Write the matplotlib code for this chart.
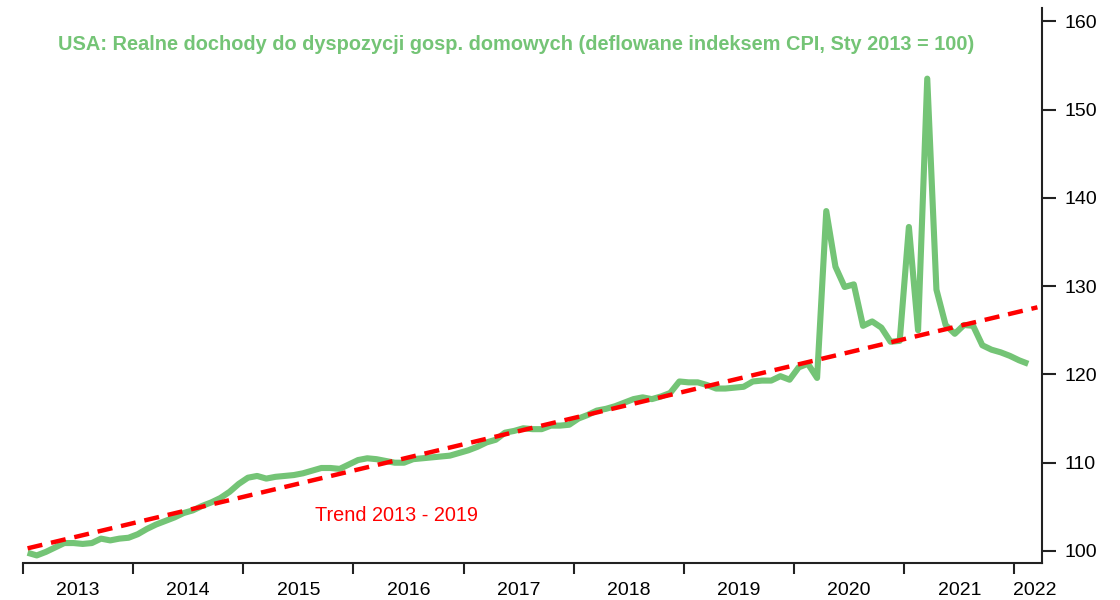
import matplotlib
matplotlib.use("Agg")
import matplotlib.pyplot as plt
import numpy as np
import pandas as pd

# ---- data ----
months = pd.period_range("2013-01", "2022-02", freq="M")
income_index = [
    99.8, 99.5, 99.9, 100.4, 100.9, 100.9, 100.8, 100.9, 101.4, 101.2, 101.4, 101.5,   # 2013
    101.9, 102.5, 103.0, 103.4, 103.8, 104.3, 104.6, 105.1, 105.5, 106.0, 106.7, 107.6, # 2014
    108.3, 108.5, 108.2, 108.4, 108.5, 108.6, 108.8, 109.1, 109.4, 109.4, 109.3, 109.8, # 2015
    110.3, 110.5, 110.4, 110.2, 110.0, 110.0, 110.4, 110.5, 110.6, 110.7, 110.8, 111.1, # 2016
    111.4, 111.8, 112.3, 112.6, 113.4, 113.6, 113.9, 113.8, 113.8, 114.2, 114.2, 114.3, # 2017
    115.0, 115.4, 115.9, 116.1, 116.4, 116.8, 117.2, 117.4, 117.2, 117.5, 117.9, 119.2, # 2018
    119.1, 119.1, 118.8, 118.4, 118.4, 118.5, 118.6, 119.2, 119.3, 119.3, 119.8, 119.4, # 2019
    120.8, 121.2, 119.6, 138.5, 132.2, 129.9, 130.2, 125.5, 126.0, 125.3, 123.7, 123.8, # 2020
    136.7, 125.0, 153.5, 129.6, 125.6, 124.6, 125.6, 125.5, 123.3, 122.8, 122.5, 122.1, # 2021
    121.6, 121.2,                                                                        # 2022
]
trend_months = ["2013-01", "2022-03"]
trend_values = [100.3, 127.6]
years = [str(y) for y in range(2013, 2023)]
y_ticks = [100, 110, 120, 130, 140, 150, 160]

title = "USA: Realne dochody do dyspozycji gosp. domowych (deflowane indeksem CPI, Sty 2013 = 100)"
trend_label = "Trend 2013 - 2019"

# ---- positions (month index, centred in month) ----
start = months[0]
x_income = np.array([(m - start).n for m in months]) + 0.5
x_trend = np.array([(pd.Period(m, freq="M") - start).n for m in trend_months]) + 0.5

plt.rcParams['font.family'] = ['Liberation Sans', 'DejaVu Sans']

fig = plt.figure(figsize=(11.2, 6.0), dpi=100)
ax = fig.add_axes([23 / 1120, 37 / 600, (1042 - 23) / 1120, (563 - 8) / 600])

green = "#74C476"
ax.plot(x_income, income_index, color=green, lw=4.4, solid_joinstyle="round",
        solid_capstyle="butt", zorder=3)
ax.plot(x_trend, trend_values, color="#FF0000", lw=3.2, linestyle=(0, (3.4, 2.0)), zorder=4)

ax.set_xlim(0, 111)
ax.set_ylim(98.64, 161.5)

# spines
for s in ["left", "top"]:
    ax.spines[s].set_visible(False)
for s in ["right", "bottom"]:
    ax.spines[s].set_linewidth(1.5)
    ax.spines[s].set_color("#222222")

ax.yaxis.tick_right()
ax.set_yticks(y_ticks)
ax.set_yticklabels([str(v) for v in y_ticks])
ax.tick_params(axis="y", direction="out", length=10, width=1.5, labelsize=14, pad=6, colors="#222222")
ax.tick_params(axis="y", labelcolor="black")

year_starts = np.arange(0, 12 * len(years), 12)
ax.set_xticks(year_starts)
ax.set_xticklabels([])
label_pos = [p + 6 for p in year_starts[:-1]] + [110.2]
ax.set_xticks(label_pos, minor=True)
ax.set_xticklabels(years, minor=True)
ax.tick_params(axis="x", which="major", direction="out", length=8, width=1.5, colors="#222222")
ax.tick_params(axis="x", which="minor", length=0, labelsize=14, pad=14, labelcolor="black")

fig.text(516.5 / 1120, 1 - 44 / 600, title, color=green, fontsize=14.4, fontweight="bold",
         ha="center", va="center")
ax.text((316 - 24) / 9.17, 100 + (551 - 516) / 8.83, trend_label,
        color="#FF0000", fontsize=14.3, ha="left", va="center")

fig.savefig("out.png", dpi=100)
